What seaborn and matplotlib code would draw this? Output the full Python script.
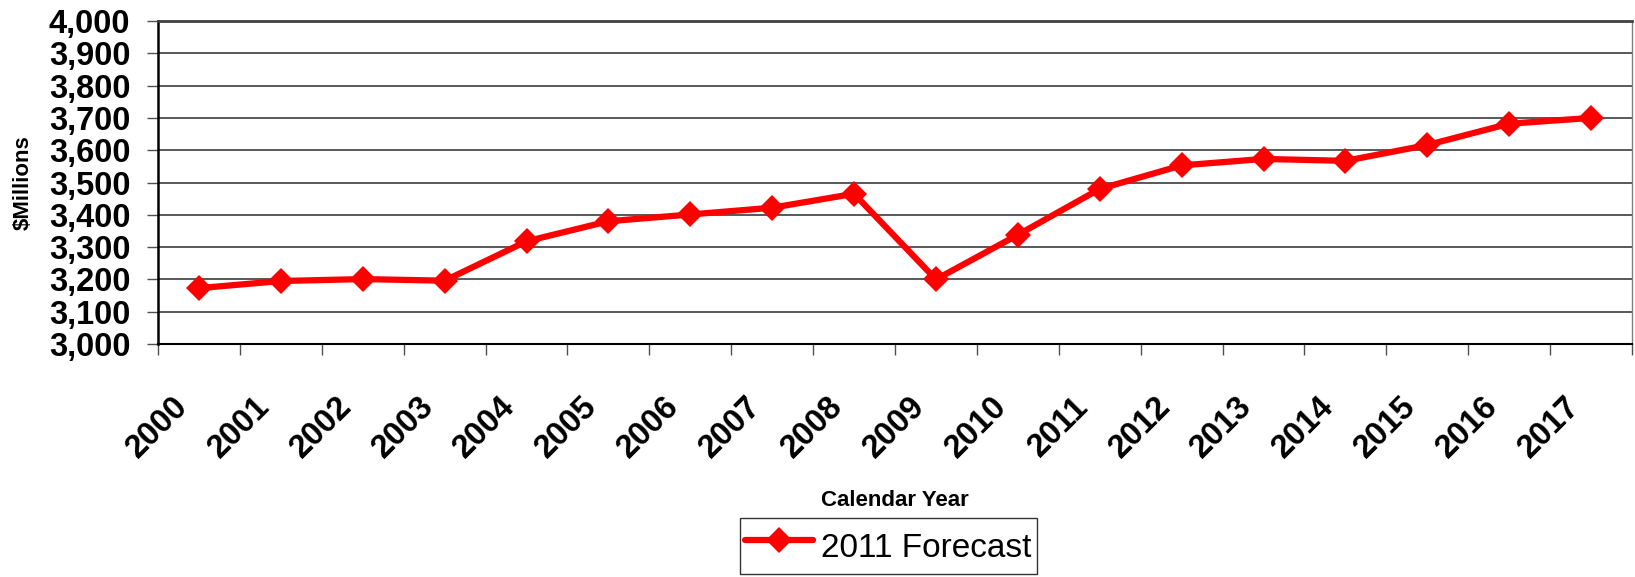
import matplotlib
matplotlib.use("Agg")
import matplotlib.pyplot as plt
import matplotlib.transforms as mtransforms
from matplotlib.ticker import FuncFormatter
import numpy as np
import pandas as pd
import seaborn as sns

# Calendar years on the category axis
years = ["2000", "2001", "2002", "2003", "2004", "2005", "2006", "2007", "2008",
         "2009", "2010", "2011", "2012", "2013", "2014", "2015", "2016", "2017"]

# 2011 forecast, $ millions
forecast_2011 = [3173, 3195, 3201, 3196, 3318, 3380, 3401, 3422, 3465,
                 3200, 3338, 3480, 3553, 3573, 3567, 3616, 3682, 3700]

series_name = "2011 Forecast"
y_ticks = [3000, 3100, 3200, 3300, 3400, 3500, 3600, 3700, 3800, 3900, 4000]

sns.set_style("white", rc={"text.color": "black", "axes.labelcolor": "black",
                           "xtick.color": "black", "ytick.color": "black"})
plt.rcParams["font.family"] = ["Liberation Sans", "DejaVu Sans"]

W, H = 1635, 577
fig = plt.figure(figsize=(W / 100, H / 100), dpi=100)
left, right, top, bottom = 158, 1632, 21, 344
ax = fig.add_axes([left / W, 1 - bottom / H, (right - left) / W, (bottom - top) / H])

df = pd.DataFrame({"pos": np.arange(len(years)), "value": forecast_2011})
sns.lineplot(data=df, x="pos", y="value", ax=ax, color="#ff0000", linewidth=4.5,
             marker="D", markersize=13.5, markeredgewidth=0, legend=False)

ax.set_xlim(-0.5, len(years) - 0.5)
ax.set_ylim(y_ticks[0], y_ticks[-1])

# Category labels centred, tick marks on the category boundaries
ax.set_xticks(np.arange(len(years)))
ax.set_xticklabels(years, rotation=45, ha="right", va="top",
                   fontsize=23.5, fontweight="bold", color="black")
ax.set_xticks(np.arange(len(years) + 1) - 0.5, minor=True)
ax.tick_params(axis="x", which="major", length=0, pad=34, bottom=False)
ax.tick_params(axis="x", which="minor", length=8, width=1, color="#505050",
               direction="out", bottom=True)
shift = mtransforms.ScaledTranslation(-5 / 100, 0, fig.dpi_scale_trans)
for lbl in ax.get_xticklabels():
    lbl.set_transform(lbl.get_transform() + shift)

ax.set_yticks(y_ticks)
ax.yaxis.set_major_formatter(FuncFormatter(lambda v, p: f"{int(v):,}"))
ax.tick_params(axis="y", which="major", length=8, width=1, color="#505050",
               labelcolor="black", direction="out", left=True, pad=12, labelsize=23.5)
for lbl in ax.get_yticklabels():
    lbl.set_fontweight("bold")

ax.yaxis.grid(True, color="#3c3c3c", linewidth=1.2)
ax.xaxis.grid(False)
ax.set_axisbelow(True)

for side, col, lw in [("left", "black", 1.8), ("bottom", "black", 1.5),
                      ("top", "#404040", 2.0), ("right", "#808080", 1.0)]:
    ax.spines[side].set_color(col)
    ax.spines[side].set_linewidth(lw)
    ax.spines[side].set_visible(True)

ax.set_ylabel(r"\$Millions", fontsize=16, fontweight="bold", va="center", color="black")
ax.yaxis.set_label_coords((23 - left) / (right - left), 0.5)
ax.set_xlabel("Calendar Year", fontsize=16, fontweight="bold", va="baseline", color="black")
ax.xaxis.set_label_coords(0.5, (bottom - 506) / (bottom - top))

line = ax.get_lines()[0]
leg = ax.legend(handles=[line], labels=[series_name], loc="upper left",
                bbox_to_anchor=(740 / W, 1 - 518 / H), bbox_transform=fig.transFigure,
                frameon=True, fancybox=False, framealpha=1, edgecolor="#333333",
                prop={"size": 24}, labelcolor="black",
                handlelength=2.05, handleheight=1.75, handletextpad=0.24,
                borderpad=0.15, borderaxespad=0)
leg.get_frame().set_linewidth(1.0)

fig.savefig("out.png", dpi=100)
